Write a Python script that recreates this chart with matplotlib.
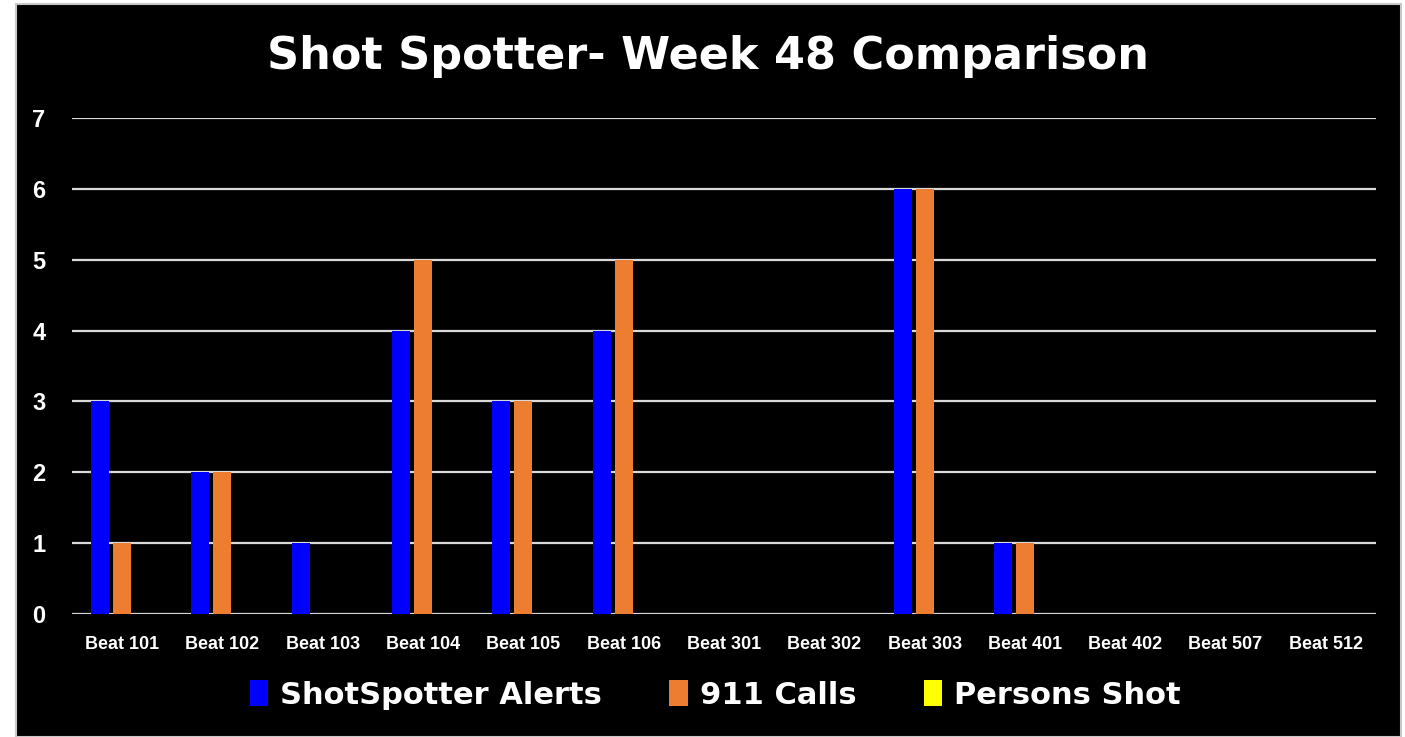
import numpy as np
import matplotlib
matplotlib.use("Agg")
import matplotlib.pyplot as plt
from matplotlib.patches import Rectangle

# ----------------------------------------------------------------------
# DATA
# ----------------------------------------------------------------------
beats = ["Beat 101", "Beat 102", "Beat 103", "Beat 104", "Beat 105", "Beat 106",
         "Beat 301", "Beat 302", "Beat 303", "Beat 401", "Beat 402", "Beat 507",
         "Beat 512"]
shotspotter_alerts = [3, 2, 1, 4, 3, 4, 0, 0, 6, 1, 0, 0, 0]
calls_911 = [1, 2, 0, 5, 3, 5, 0, 0, 6, 1, 0, 0, 0]
persons_shot = [0, 0, 0, 0, 0, 0, 0, 0, 0, 0, 0, 0, 0]
y_ticks = [0, 1, 2, 3, 4, 5, 6, 7]

series = [
    ("ShotSpotter Alerts", shotspotter_alerts, "#0000FF"),
    ("911 Calls", calls_911, "#ED7D31"),
    ("Persons Shot", persons_shot, "#FFFF00"),
]

FONT = "Liberation Sans"
HEAVY = "DejaVu Sans"   # wider bold face, closer to the slide's heavy font
GRID = "#d9d9d9"

fig = plt.figure(figsize=(14.05, 7.37), dpi=100, facecolor="white")

# black panel with thin grey frame, like the pasted slide chart
fig.patches.append(Rectangle((16 / 1405, 0), 1385 / 1405, 1 - 4 / 737,
                             transform=fig.transFigure, facecolor="black",
                             edgecolor="#c8c8c8", linewidth=1.5, zorder=-5))

ax = fig.add_axes([72 / 1405, 1 - 614 / 737, 1304 / 1405, 496 / 737])
ax.set_facecolor("none")

x = np.arange(len(beats))
width = 0.18
step = 0.22
for i, (label, values, color) in enumerate(series):
    ax.bar(x + (i - 1) * step, values, width, color=color, label=label, zorder=3)

ax.set_xlim(-0.5, len(beats) - 0.5)
ax.set_ylim(0, 7)
ax.set_yticks(y_ticks)
ax.yaxis.grid(True, color=GRID, linewidth=1.6, zorder=1)
ax.set_axisbelow(True)
for side in ["top", "right", "left", "bottom"]:
    ax.spines[side].set_visible(False)

ax.set_xticks(x)
ax.set_xticklabels(beats, fontfamily=FONT, fontweight="bold", fontsize=13, color="white")
ax.tick_params(axis="x", length=0, pad=15.5)
ax.tick_params(axis="y", length=0, pad=19, labelcolor="white")
for t in ax.get_yticklabels():
    t.set_fontfamily(FONT)
    t.set_fontweight("bold")
    t.set_fontsize(17)

fig.text(0.504, 0.923, "Shot Spotter- Week 48 Comparison", ha="center", va="center",
         fontfamily=HEAVY, fontweight="bold", fontsize=32, color="white")

leg = fig.legend(loc="center", bbox_to_anchor=(0.509, 1 - 695 / 737), ncol=3,
                 frameon=False, handlelength=0.6, handleheight=0.9,
                 handletextpad=0.4, columnspacing=2.2,
                 prop={"family": HEAVY, "weight": "bold", "size": 22})
for text in leg.get_texts():
    text.set_color("white")

fig.savefig("out.png", dpi=100, facecolor=fig.get_facecolor())
